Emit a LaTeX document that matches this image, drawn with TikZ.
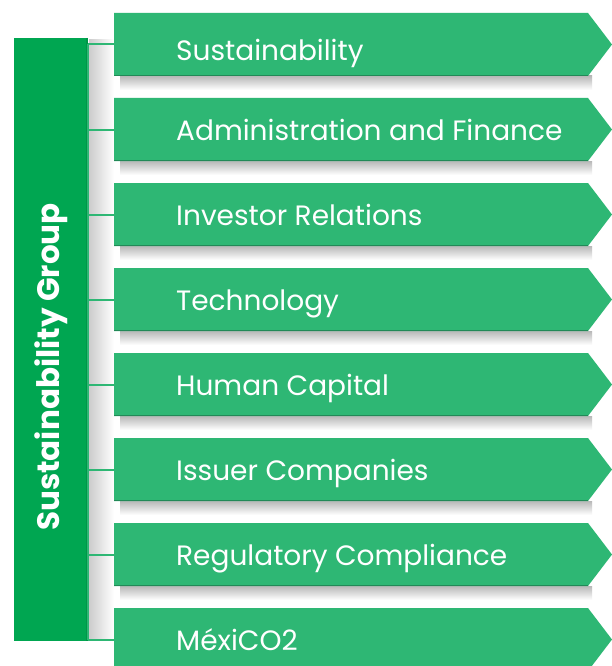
\documentclass[tikz,border=0pt]{standalone}
\usepackage{fontspec}
\setmainfont{Poppins}
\usetikzlibrary{calc}
\definecolor{bargreen}{RGB}{0,166,81}
\definecolor{boxgreen}{RGB}{46,183,116}
\definecolor{linegreen}{RGB}{0,150,72}
\tikzset{
  x=1pt,y=-1pt,
  label/.style={anchor=base west,text=white,inner sep=0pt,font=\fontsize{28}{32}\selectfont},
  stub/.style={draw=boxgreen,line width=2pt},
  boxshape/.style={fill=boxgreen,draw=none},
  shadowband/.style={top color=black!28,bottom color=white,draw=none}
}
\begin{document}
\begin{tikzpicture}
\useasboundingbox (0,0) rectangle (612,666);
\fill[white] (0,0) rectangle (612,666);
\begin{scope}
\clip (0,0) rectangle (612,666);
% shading between bar and boxes
\shade[left color=black!20,right color=white,draw=none] (89,40) rectangle (114,640);
% left bar
\node[fill=bargreen,minimum width=72pt,minimum height=603pt,inner sep=0pt,anchor=north west] (bar) at (14,38) {};
\draw[linegreen,line width=1.5pt] (87,38) -- (87,641);
\node[rotate=90,text=white,inner sep=0pt,font=\fontsize{31}{34}\selectfont\bfseries] (title) at (51,367) {Sustainability Group};
% boxes
\foreach \i/\t/\dy in {1/Sustainability/6,2/Administration and Finance/0,3/Investor Relations/0,4/Technology/0,5/Human Capital/0,6/Issuer Companies/0,7/Regulatory Compliance/0,8/MéxiCO2/0}{
  \pgfmathsetmacro{\top}{13+85*(\i-1)}
  \pgfmathsetmacro{\mid}{\top+31.5}
  \pgfmathsetmacro{\bot}{\top+63}
  \shade[shadowband] (120,\bot) rectangle (592,\bot+14);
  \path[boxshape] (114,\top) -- (588,\top) -- (612,\mid) -- (588,\bot) -- (114,\bot) -- cycle;
  \draw[black!25!boxgreen,line width=1pt] (114,\bot-0.5) -- (588,\bot-0.5);
  \coordinate (s\i) at (88,\mid);
  \coordinate (e\i) at (114,\mid);
  \draw[stub] (s\i) -- (e\i);
  \node[label] (t\i) at (176,\mid+10.5+\dy) {\t};
}
\draw[boxgreen,line width=1.5pt] (s1) -- (s8);
\end{scope}
\end{tikzpicture}
\end{document}
